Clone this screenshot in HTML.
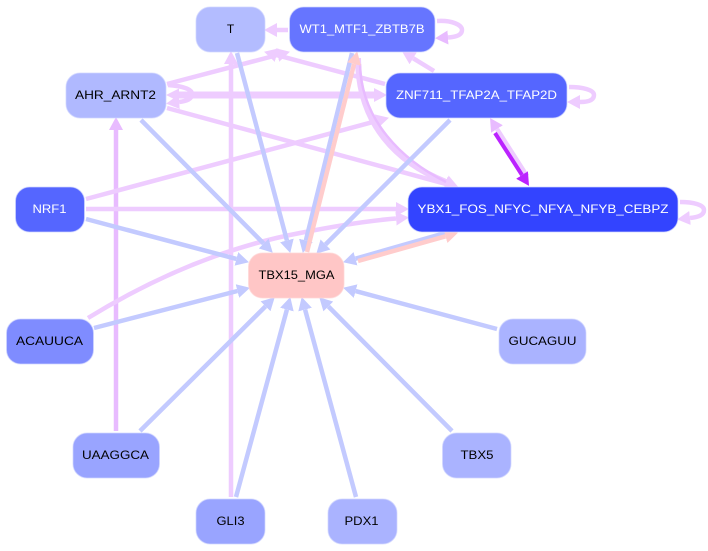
<!DOCTYPE html>
<html><head><meta charset="utf-8"><style>
html,body{margin:0;padding:0;background:#fff}
svg{display:block}
text{font-family:"Liberation Sans",sans-serif;font-size:12px;text-anchor:middle}
.e{fill:none;stroke-width:4.5;stroke-linecap:butt}
.b{stroke:#c3caff}.p{stroke:#eeccff}.q{stroke:#e8bbff}.s{stroke:#ffcccc}
.n{stroke-width:1}
</style></head><body>
<svg width="708" height="551" viewBox="0 0 708 551" xmlns="http://www.w3.org/2000/svg">
<defs>
<marker id="mb" markerUnits="userSpaceOnUse" markerWidth="15" markerHeight="15" refX="0" refY="7.5" orient="auto"><path d="M0,0.500 L13,7.5 L0,14.500 Z" fill="#c3caff"/></marker>
<marker id="mp" markerUnits="userSpaceOnUse" markerWidth="15" markerHeight="15" refX="0" refY="7.5" orient="auto"><path d="M0,0.500 L13,7.5 L0,14.500 Z" fill="#eeccff"/></marker>
<marker id="mq" markerUnits="userSpaceOnUse" markerWidth="15" markerHeight="15" refX="0" refY="7.5" orient="auto"><path d="M0,0.500 L13,7.5 L0,14.500 Z" fill="#e8bbff"/></marker>
<marker id="ms" markerUnits="userSpaceOnUse" markerWidth="15" markerHeight="15" refX="0" refY="7.5" orient="auto"><path d="M0,0.500 L13,7.5 L0,14.500 Z" fill="#ffcccc"/></marker>
<marker id="mv" markerUnits="userSpaceOnUse" markerWidth="15" markerHeight="15" refX="0" refY="7.5" orient="auto"><path d="M0,0.500 L13,7.5 L0,14.500 Z" fill="#bb22ff"/></marker>
</defs>

<!-- pink edges -->
<path class="e p" d="M231,497 L231,64" marker-end="url(#mp)"/>
<path class="e q" d="M116,431 L116,130" marker-end="url(#mq)"/>
<path class="e p" d="M288,30 L277,30" marker-end="url(#mp)"/>
<path class="e p" d="M434,71 L413.2,58.3" marker-end="url(#mp)"/>
<path class="e p" d="M385,84 L276.6,55.1" marker-end="url(#mp)"/>
<path class="e p" d="M167,84 L277.4,55" marker-end="url(#mp)"/>
<path class="e p" style="stroke-width:7" d="M179,95 L374,95" marker-end="url(#mp)"/>
<path d="M166,95 L179,88.500 L179,101.500 Z" fill="#eeccff"/>
<path class="e p" d="M167,108 L445.4,183.8" marker-end="url(#mp)"/>
<path class="e p" d="M86,199 L376.4,121.1" marker-end="url(#mp)"/>
<path class="e p" d="M86,209 L396,209" marker-end="url(#mp)"/>
<path class="e p" d="M88,318 C150,280 220,248 300,233 C335,226 365,221 396,218.500" marker-end="url(#mp)"/>
<path class="e p" style="stroke-width:6" d="M358,58 C358,125 398,163 446,182" marker-end="url(#mp)"/>
<path class="e q" style="stroke-width:2.500" d="M360,64 C361,120 402,160 446,182"/>
<path class="e p" d="M527,176 L497,129" marker-end="url(#mq)"/>
<path class="e" style="stroke:#bb22ff;stroke-width:4" d="M495,133 L522,175" marker-end="url(#mv)"/>

<!-- self loops -->
<path class="e p" d="M437,21 C452,20 462,25 462,30 C462,35 456,37 448,37.500" marker-end="url(#mq)"/>
<path class="e p" d="M168,85 C182,86 192,89 192,94 C192,99 187,101 179,102" marker-end="url(#mp)"/>
<path class="e p" d="M569,87 C583,87 594,90 594,95 C594,100 589,102 580,102" marker-end="url(#mp)"/>
<path class="e p" d="M680,202 C694,202 704,205 704,210 C704,215 699,217 690,218" marker-end="url(#mp)"/>

<!-- blue edges -->
<path class="e b" d="M237,53 L286.9,240.4" marker-end="url(#mb)"/>
<path class="e b" d="M141,120 L263.6,243.5" marker-end="url(#mb)"/>
<path class="e b" d="M86,219 L236.4,258.9" marker-end="url(#mb)"/>
<path class="e b" d="M94,328 L237.4,291" marker-end="url(#mb)"/>
<path class="e b" d="M140,431 L265.5,306.4" marker-end="url(#mb)"/>
<path class="e b" d="M236,497 L286.9,309.6" marker-end="url(#mb)"/>
<path class="e b" d="M356,497 L305.1,309.6" marker-end="url(#mb)"/>
<path class="e b" d="M452,431 L328.4,306.5" marker-end="url(#mb)"/>
<path class="e b" d="M497,329 L355.6,291.1" marker-end="url(#mb)"/>
<path class="e b" d="M452,231 L355.5,258.7" marker-end="url(#mb)"/>
<path class="e b" d="M352,53 L305.9,240.4" marker-end="url(#mb)"/>
<path class="e b" d="M450,120 L325.5,244.5" marker-end="url(#mb)"/>

<!-- salmon edges -->
<path class="e s" d="M358,261 L445.5,236.3" marker-end="url(#ms)"/>
<path class="e s" d="M307,252 L354.1,64" marker-end="url(#ms)"/>

<!-- nodes -->
<g stroke="#d0d5ff" stroke-opacity="0.7">
<rect class="n" x="196" y="7" width="69" height="45" rx="14" fill="#b3bcff"/>
<rect class="n" x="289.500" y="7" width="145.500" height="45" rx="14" fill="#6675ff"/>
<rect class="n" x="386" y="73" width="181" height="45" rx="14" fill="#5566ff"/>
<rect class="n" x="66" y="73" width="100" height="45" rx="14" fill="#b0b9ff"/>
<rect class="n" x="15.500" y="187" width="69" height="45" rx="14" fill="#5566ff"/>
<rect class="n" x="408" y="187" width="270" height="45" rx="14" fill="#3344ff"/>
<rect class="n" x="248.500" y="253" width="95.500" height="45" rx="14" fill="#ffc6c6" stroke="#ffd6d6"/>
<rect class="n" x="6.500" y="319" width="87" height="45" rx="14" fill="#7f8cff"/>
<rect class="n" x="499" y="319" width="87" height="45" rx="14" fill="#aab3ff"/>
<rect class="n" x="73" y="433" width="86.500" height="45" rx="14" fill="#99a4ff"/>
<rect class="n" x="442.500" y="433" width="68.500" height="45" rx="14" fill="#aab3ff"/>
<rect class="n" x="196" y="499" width="69" height="45" rx="14" fill="#99a4ff"/>
<rect class="n" x="328" y="499" width="69" height="45" rx="14" fill="#aab3ff"/>
</g>

<!-- labels -->
<text x="230.500" y="33">T</text>
<text x="362" y="33" fill="#fff" textLength="125" lengthAdjust="spacingAndGlyphs">WT1_MTF1_ZBTB7B</text>
<text x="476.500" y="99" fill="#fff" textLength="161" lengthAdjust="spacingAndGlyphs">ZNF711_TFAP2A_TFAP2D</text>
<text x="115.500" y="99" textLength="81" lengthAdjust="spacingAndGlyphs">AHR_ARNT2</text>
<text x="49.500" y="213" fill="#fff" textLength="34" lengthAdjust="spacingAndGlyphs">NRF1</text>
<text x="543" y="213" fill="#fff" textLength="251" lengthAdjust="spacingAndGlyphs">YBX1_FOS_NFYC_NFYA_NFYB_CEBPZ</text>
<text x="296.500" y="279" textLength="76" lengthAdjust="spacingAndGlyphs">TBX15_MGA</text>
<text x="49.500" y="345" textLength="67" lengthAdjust="spacingAndGlyphs">ACAUUCA</text>
<text x="542.500" y="345" textLength="68" lengthAdjust="spacingAndGlyphs">GUCAGUU</text>
<text x="115.500" y="459" textLength="67" lengthAdjust="spacingAndGlyphs">UAAGGCA</text>
<text x="477" y="459" textLength="33" lengthAdjust="spacingAndGlyphs">TBX5</text>
<text x="230.500" y="525" textLength="28" lengthAdjust="spacingAndGlyphs">GLI3</text>
<text x="361.500" y="525" textLength="34" lengthAdjust="spacingAndGlyphs">PDX1</text>
</svg>
</body></html>
